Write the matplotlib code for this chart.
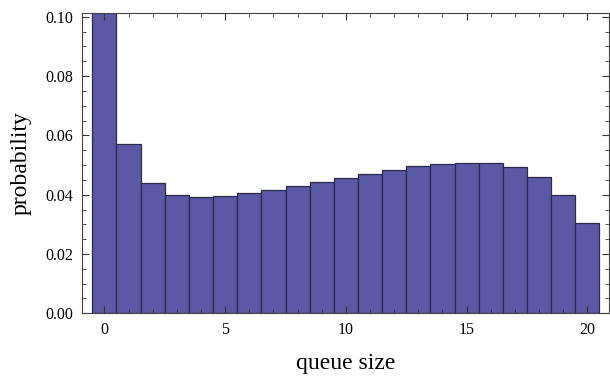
import numpy as np
import matplotlib.pyplot as plt
from matplotlib.ticker import MultipleLocator

# queue size histogram (probabilities)
queue_size = np.arange(0, 21)
probability = [0.115, 0.0571, 0.0439, 0.0399, 0.0391, 0.0395, 0.0405, 0.0415,
               0.0429, 0.0443, 0.0456, 0.0471, 0.0483, 0.0496, 0.0503, 0.0508,
               0.0506, 0.0492, 0.0459, 0.0399, 0.0303]

plt.rcParams['font.family'] = ['Liberation Serif', 'DejaVu Serif']

fig = plt.figure(figsize=(6.10, 3.77), dpi=100)
ax = fig.add_axes([0.134, 0.169, 0.865, 0.796])

ax.bar(queue_size, probability, width=1.0, color='#5b58a5',
       edgecolor='#2b2a48', linewidth=0.9)

ax.set_xlim(-0.937, 20.91)
ax.set_ylim(0, 0.1012)

ax.xaxis.set_major_locator(MultipleLocator(5))
ax.xaxis.set_minor_locator(MultipleLocator(1))
ax.yaxis.set_major_locator(MultipleLocator(0.02))
ax.yaxis.set_minor_locator(MultipleLocator(0.005))
ax.yaxis.set_major_formatter(plt.FormatStrFormatter('%.2f'))

ax.tick_params(which='both', direction='in', top=True, right=True,
               labelsize=11.5, color='#333333', pad=6)
ax.tick_params(which='major', length=5, width=0.8)
ax.tick_params(which='minor', length=3, width=0.6)
for s in ax.spines.values():
    s.set_color('#444444')
    s.set_linewidth(0.8)

ax.set_xlabel('queue size', fontsize=17, labelpad=11)
ax.set_ylabel('probability', fontsize=17, labelpad=10)

fig.savefig('out.png', dpi=100)
